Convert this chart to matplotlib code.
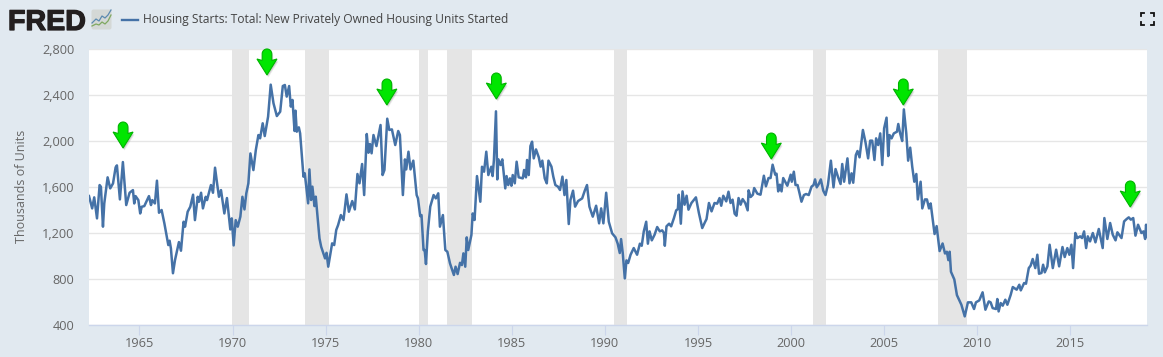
import matplotlib
matplotlib.use("Agg")
import matplotlib.pyplot as plt
import matplotlib.patheffects as pe
from matplotlib.path import Path
from matplotlib.patches import PathPatch, FancyBboxPatch
from matplotlib.transforms import Affine2D

plt.rcParams['font.family'] = ['Open Sans', 'DejaVu Sans']

years_1962_1971 = [1962.29,1962.46,1962.57,1962.72,1962.86,1962.93,1963.04,1963.11,1963.29,1963.43,1963.58,1963.72,1963.79,1963.95,
 1964.11,1964.29,1964.47,1964.65,1964.72,1964.79,1964.94,1965.04,1965.12,1965.26,1965.51,1965.62,1965.69,1965.83,1965.94,
 1966.05,1966.19,1966.34,1966.55,1966.62,1966.69,1966.80,1966.91,1967.12,1967.23,1967.37,1967.45,1967.59,1967.73,1967.88,1967.98,
 1968.13,1968.20,1968.31,1968.41,1968.56,1968.63,1968.84,1968.95,1969.06,1969.17,1969.27,1969.38,1969.56,1969.70,1969.88,1969.96,
 1970.06,1970.17,1970.28,1970.42,1970.53,1970.64,1970.74,1970.85,1970.96,1971.12,1971.25,1971.39,1971.48]
starts_1962_1971 = [1521,1414,1510,1327,1617,1602,1255,1457,1684,1588,1631,1771,1788,1492,
 1817,1443,1550,1573,1457,1521,1486,1370,1428,1434,1521,1443,1486,1457,1655,
 1376,1400,1283,1095,1133,1066,850,965,1121,1046,1298,1255,1385,1428,1533,1312,
 1515,1472,1550,1414,1515,1486,1617,1550,1768,1631,1515,1573,1370,1504,1231,1327,
 1092,1312,1255,1342,1515,1405,1545,1631,1892,1747,1921,2052,2023]

years_1971_1981 = [1971.62,1971.73,1971.91,1972.05,1972.20,1972.38,1972.56,1972.70,1972.81,1972.91,1973.04,1973.13,1973.22,1973.33,1973.38,1973.45,1973.56,1973.63,1973.81,1973.88,
 1974.06,1974.13,1974.22,1974.29,1974.40,1974.47,1974.67,1974.76,1974.97,1975.05,1975.14,1975.35,1975.46,1975.57,1975.67,1975.82,1975.96,
 1976.12,1976.25,1976.43,1976.57,1976.71,1976.82,1976.96,1977.07,1977.21,1977.30,1977.38,1977.47,1977.57,1977.73,1977.95,
 1978.06,1978.16,1978.31,1978.42,1978.56,1978.74,1978.90,1978.99,1979.15,1979.26,1979.33,1979.45,1979.56,1979.71,1979.89,1979.96,
 1980.08,1980.15,1980.26,1980.32,1980.39,1980.49,1980.62,1980.80,1980.92,1981.05]
starts_1971_1981 = [2154,2043,2212,2490,2328,2217,2255,2478,2487,2386,2478,2299,2357,2087,2264,2081,2119,2067,1690,1719,
 1458,1753,1487,1603,1434,1516,1153,1081,979,1028,907,1110,1095,1226,1269,1356,1313,
 1536,1385,1478,1405,1713,1632,1800,1530,2061,1898,1974,1893,2052,1956,2139,
 1704,1748,2194,2096,2101,1965,2087,2052,1530,1840,1753,1907,1753,1829,1530,1501,
 1347,1356,1052,1052,930,1211,1429,1530,1501,1545]

years_1981_1990 = [1981.14,1981.30,1981.43,1981.54,1981.68,1981.89,1981.98,1982.09,1982.22,1982.32,1982.40,1982.50,1982.58,1982.66,1982.83,1982.90,
 1983.00,1983.13,1983.31,1983.40,1983.51,1983.63,1983.74,1983.90,1983.97,1984.04,1984.15,1984.22,1984.28,1984.40,1984.49,1984.65,1984.72,1984.81,1984.90,1984.98,
 1985.05,1985.16,1985.26,1985.37,1985.59,1985.66,1985.76,1985.82,1985.91,1986.00,1986.09,1986.18,1986.30,1986.45,1986.55,1986.64,1986.77,1986.88,1986.97,
 1987.13,1987.23,1987.34,1987.48,1987.59,1987.72,1987.83,1987.93,1988.06,1988.15,1988.29,1988.40,1988.56,1988.78,1988.92,
 1989.04,1989.17,1989.35,1989.53,1989.69,1989.80,1989.92,1990.07,1990.21,1990.39,1990.57]
starts_1981_1990 = [1255,1356,1052,1037,936,835,907,843,941,921,1023,907,1162,1052,1182,1370,
 1313,1695,1472,1776,1733,1907,1704,1776,1695,1835,2258,1666,1840,1791,1840,1588,1695,1617,1675,1611,
 1704,1632,1820,1684,1675,1748,1684,1835,1704,1956,1994,1849,1927,1858,1777,1829,1675,1632,1829,
 1777,1690,1617,1603,1574,1690,1530,1661,1278,1487,1568,1429,1478,1501,1568,
 1617,1429,1342,1437,1284,1414,1284,1550,1298,1197,1162]

years_1990_1999 = [1990.69,1990.80,1990.87,1990.96,1991.07,1991.16,1991.25,1991.38,1991.55,1991.73,1991.88,1991.98,
 1992.09,1992.22,1992.31,1992.40,1992.52,1992.67,1992.81,1992.95,1993.08,1993.17,1993.22,1993.31,1993.45,1993.56,1993.71,1993.83,1993.92,1993.97,
 1994.08,1994.17,1994.28,1994.39,1994.49,1994.65,1994.89,1995.05,1995.23,1995.37,1995.46,1995.59,1995.73,1995.89,
 1996.03,1996.16,1996.25,1996.36,1996.52,1996.64,1996.75,1996.86,1996.97,1997.07,1997.18,1997.29,1997.40,1997.54,1997.67,1997.72,1997.83,1997.95,
 1998.02,1998.19,1998.36,1998.54,1998.65,1998.79,1998.90,1999.01,1999.15,1999.22,1999.31,1999.40,1999.49,1999.58,1999.80,1999.98]
starts_1990_1999 = [1107,1026,1147,1026,805,962,939,1011,1069,1011,1107,1089,
 1214,1298,1107,1214,1136,1185,1252,1214,1223,1200,1089,1258,1281,1258,1330,1397,1408,1533,
 1281,1562,1446,1524,1403,1461,1510,1374,1243,1292,1321,1461,1388,1461,
 1455,1504,1437,1524,1475,1559,1461,1490,1368,1350,1504,1446,1495,1461,1397,1571,1513,1533,
 1591,1542,1533,1698,1606,1678,1678,1794,1707,1716,1562,1620,1562,1678,1611,1707]

years_2000_2008 = [2000.04,2000.15,2000.24,2000.35,2000.45,2000.56,2000.69,2000.81,2000.95,
 2001.10,2001.21,2001.29,2001.38,2001.49,2001.60,2001.73,2001.85,2001.98,2002.14,2002.28,2002.39,2002.53,2002.66,2002.75,2002.85,
 2003.03,2003.14,2003.25,2003.34,2003.48,2003.57,2003.68,2003.86,2004.00,2004.14,2004.25,2004.36,2004.48,2004.57,2004.68,2004.79,2004.90,
 2005.00,2005.13,2005.22,2005.29,2005.40,2005.52,2005.69,2005.76,2005.86,2005.97,2006.06,2006.19,2006.29,2006.40,2006.51,2006.62,2006.73,2006.81,2006.96,
 2007.05,2007.19,2007.30,2007.41,2007.50,2007.59,2007.71,2007.82,2007.98,2008.14,2008.27,2008.37,2008.45,2008.52,2008.59,2008.77,2008.91]
starts_2000_2008 = [1646,1733,1617,1617,1550,1472,1530,1539,1530,
 1603,1617,1666,1597,1626,1666,1568,1530,1617,1829,1597,1756,1684,1626,1800,1646,
 1849,1632,1719,1637,1878,1913,1858,2096,1988,1849,2003,2003,1835,2023,1965,2066,1791,
 2110,2203,1869,2052,2023,2066,2081,2148,2066,2000,2275,2066,1829,1942,1776,1646,1713,1492,1646,
 1414,1492,1492,1414,1457,1341,1191,1260,1043,1109,1022,1037,964,1037,863,796,660]

years_2009_2019 = [2009.15,2009.33,2009.50,2009.68,2009.83,2009.93,2010.11,2010.29,2010.44,2010.62,2010.72,2010.83,
 2011.01,2011.08,2011.15,2011.26,2011.37,2011.51,2011.62,2011.80,2011.91,2012.12,2012.26,2012.34,2012.52,2012.62,2012.77,2012.87,2012.98,
 2013.12,2013.23,2013.32,2013.45,2013.54,2013.63,2013.77,2013.89,2014.06,2014.24,2014.40,2014.58,2014.70,2014.84,2014.95,
 2015.06,2015.15,2015.27,2015.38,2015.53,2015.63,2015.74,2015.85,2015.94,2016.06,2016.21,2016.35,2016.53,2016.74,2016.83,2016.99,
 2017.14,2017.28,2017.43,2017.53,2017.75,2017.89,2018.03,2018.14,2018.25,2018.38,2018.50,2018.64,2018.82,2018.93,2019.02,2019.07,2019.12]
starts_2009_2019 = [576,475,597,597,539,597,614,684,533,605,597,547,
 539,626,518,591,568,620,576,663,730,707,750,701,765,759,895,916,974,
 895,1011,846,852,924,858,910,1098,895,1055,910,1078,991,1069,1011,
 1098,895,1200,1156,1171,1156,1214,1069,1171,1127,1200,1119,1235,1069,1330,1148,
 1287,1185,1136,1206,1156,1301,1322,1336,1316,1330,1177,1272,1200,1214,1148,1272,1171]

years = years_1962_1971 + years_1971_1981 + years_1981_1990 + years_1990_1999 + years_2000_2008 + years_2009_2019
starts = starts_1962_1971 + starts_1971_1981 + starts_1981_1990 + starts_1990_1999 + starts_2000_2008 + starts_2009_2019

recession_start = [1969.96, 1973.87, 1980.00, 1981.50, 1990.50, 2001.17, 2007.92]
recession_end = [1970.87, 1975.20, 1980.50, 1982.87, 1991.17, 2001.87, 2009.47]

arrow_years = [1964.12, 1971.85, 1978.29, 1984.17, 1998.94, 2006.03, 2018.22]
arrow_values = [1939, 2574, 2313, 2365, 1843, 2313, 1426]

y_ticks = [400, 800, 1200, 1600, 2000, 2400, 2800]
x_ticks = [1965, 1970, 1975, 1980, 1985, 1990, 1995, 2000, 2005, 2010, 2015]
series_name = "Housing Starts: Total: New Privately Owned Housing Units Started"
y_title = "Thousands of Units"

W, H = 1163, 357
BG = "#e1e9f0"
LINE = "#4572a7"
TXT = "#666666"

fig = plt.figure(figsize=(W/100, H/100), dpi=100, facecolor=BG)
ax = fig.add_axes([89/W, (H-325)/H, (1147-89)/W, 276/H])
ax.set_xlim(1962.29, 2019.12)
ax.set_ylim(400, 2800)
ax.set_yticks(y_ticks)
ax.set_yticklabels([f"{v:,}" for v in y_ticks])
ax.set_xticks(x_ticks)
ax.grid(axis="y", color="#e6e6e6", lw=1.0, zorder=1)
ax.set_axisbelow(True)
for s in ["top", "left", "right"]:
    ax.spines[s].set_visible(False)
ax.spines["bottom"].set_color("#ccd6eb")
ax.spines["bottom"].set_linewidth(1.0)
ax.tick_params(axis="y", length=0, pad=10.5, labelsize=9.2, labelcolor=TXT)
ax.tick_params(axis="x", length=7.2, width=0.8, color="#ccd6eb", pad=1.2, labelsize=9.2, labelcolor=TXT)
ax.set_ylabel(y_title, fontsize=9.0, color=TXT, va="center")
ax.yaxis.set_label_coords((22-89)/(1147-89), (325-186.5)/276)

for a, b in zip(recession_start, recession_end):
    ax.axvspan(a, b, facecolor="#e5e5e5", edgecolor="none", zorder=2)

ax.plot(years, starts, color=LINE, lw=1.8, solid_joinstyle="round", zorder=3)

# green arrow shape, in pixels, tip at the origin
r = 4.8
k = 0.55 * r
verts = [(0, 0), (-10, 16), (-r, 14.5), (-r, 26-r),
         (-r, 26-r+k), (-k, 26), (0, 26),
         (k, 26), (r, 26-r+k), (r, 26-r),
         (r, 14.5), (10, 16), (0, 0), (0, 0)]
codes = [Path.MOVETO, Path.LINETO, Path.LINETO, Path.LINETO,
         Path.CURVE4, Path.CURVE4, Path.CURVE4,
         Path.CURVE4, Path.CURVE4, Path.CURVE4,
         Path.LINETO, Path.LINETO, Path.LINETO, Path.CLOSEPOLY]
arrow = Path(verts, codes)
fig.canvas.draw()
for xv, yv in zip(arrow_years, arrow_values):
    px, py = ax.transData.transform((xv, yv))
    for dx, dy, al in [(1.5, -2.5, 0.08), (1, -1.5, 0.12)]:
        fig.add_artist(PathPatch(arrow, transform=Affine2D().translate(px+dx, py+dy),
                                 facecolor="#000000", edgecolor="none", alpha=al, zorder=5))
    fig.add_artist(PathPatch(arrow, transform=Affine2D().translate(px, py),
                             facecolor="#00e600", edgecolor="#00b400", lw=0.8, zorder=6))

# header
fig.text(8/W, 1-30/H, "FRED", family="Liberation Sans", weight="bold", fontsize=20.6, color="#231f20",
         va="baseline", ha="left",
         path_effects=[pe.withStroke(linewidth=0.9, foreground="#231f20")])
icon_ax = fig.add_axes([91/W, 1-30/H, 21/W, 21/H])
icon_ax.set_xlim(0, 21); icon_ax.set_ylim(0, 21); icon_ax.axis("off")
icon_ax.add_patch(FancyBboxPatch((0.5, 0.5), 20, 20, boxstyle="round,pad=0,rounding_size=2", fc="#d4d8d6", ec="none"))
icon_ax.plot([1, 5, 8, 11, 14, 17, 20], [7, 11, 9, 14, 12, 15, 20], color="#5b8ab0", lw=0.9)
icon_ax.plot([1, 5, 8, 11, 14, 17, 20], [4, 6, 5, 8, 6, 9, 15], color="#7fa860", lw=0.9)

fig.add_artist(plt.Line2D([122/W, 138/W], [1-20/H, 1-20/H], color=LINE, lw=1.7))
fig.text(143/W, 1-20/H, series_name, fontsize=8.62, color="#444444", va="center", ha="left")

# full-screen icon
for cx, cy, sx, sy in [(1141, 13, 1, 1), (1154, 13, -1, 1), (1141, 25, 1, -1), (1154, 25, -1, -1)]:
    fig.add_artist(plt.Line2D([(cx+3*sx)/W, cx/W, cx/W], [1-cy/H, 1-cy/H, 1-(cy+3*sy)/H], color="#111111", lw=1.3, solid_joinstyle="miter"))

fig.savefig("out.png", dpi=100, facecolor=BG)
